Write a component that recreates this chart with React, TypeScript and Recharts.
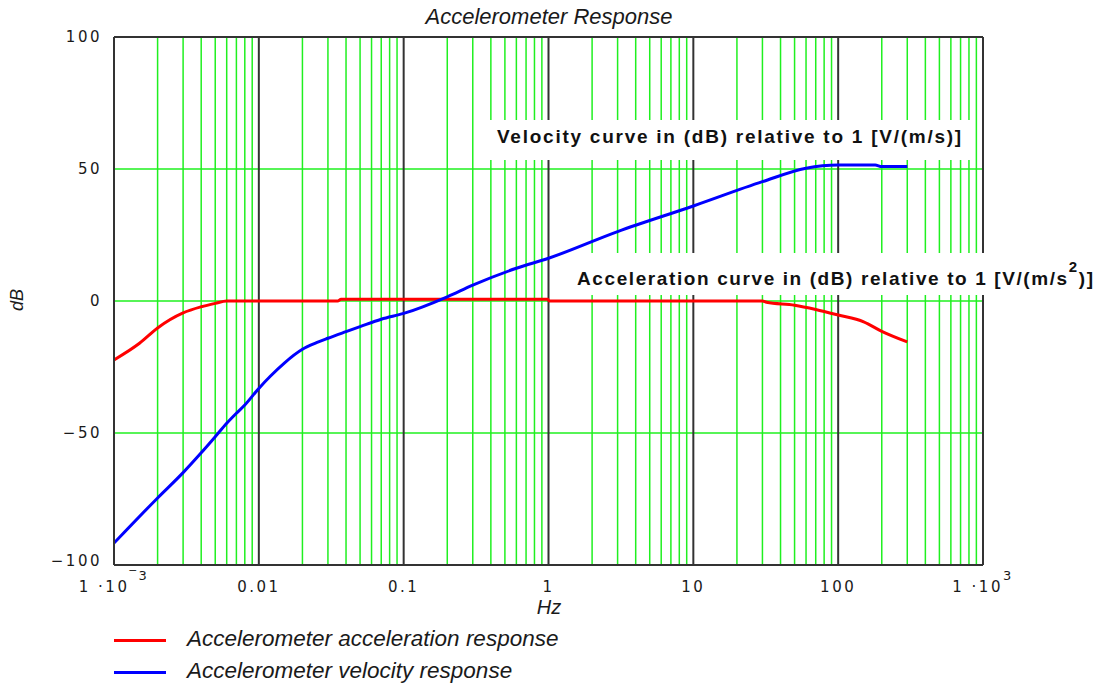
import { LineChart, Line, XAxis, YAxis, CartesianGrid } from 'recharts';

// frequency axis (Hz), log scale
const decadeTicks = [0.001, 0.01, 0.1, 1, 10, 100, 1000];
const minorSteps = [2, 3, 4, 5, 6, 7, 8, 9];
const dbTicks = [-100, -50, 0, 50, 100];

// acceleration response, dB re 1 V/(m/s^2)
const accelFreq = [0.001, 0.0015, 0.002, 0.003, 0.004, 0.005, 0.006, 0.01, 0.035, 0.037, 0.1, 0.99, 1.01, 10, 30, 32, 50, 70, 100, 150, 200, 300];
const accelDb = [-22.3, -16, -10.2, -4.5, -2.2, -0.9, 0, 0, 0, 0.7, 0.7, 0.7, 0, 0, 0, -0.5, -1.6, -3.2, -5.3, -7.9, -11.5, -15.5];

// velocity response, dB re 1 V/(m/s)
const velFreq = [0.001, 0.002, 0.003, 0.004, 0.005, 0.006, 0.007, 0.008, 0.01, 0.012, 0.015, 0.02, 0.025, 0.03, 0.04, 0.05, 0.07, 0.1, 0.2, 0.3, 0.6, 1, 3, 10, 30, 60, 100, 180, 200, 300];
const velDb = [-91.7, -74.6, -65, -57.5, -51.4, -46.3, -42.5, -39.4, -33.1, -28.5, -23.5, -18.3, -15.8, -14.1, -11.6, -9.7, -6.9, -4.7, 1.6, 6, 12.4, 16.2, 26.3, 36, 45.2, 50.3, 51.5, 51.5, 50.9, 50.9];

const accelName = 'Accelerometer acceleration response';
const velName = 'Accelerometer velocity response';

const accelData = accelFreq.map((f, i) => ({ f, db: accelDb[i] }));
const velData = velFreq.map((f, i) => ({ f, db: velDb[i] }));
const minorGrid = decadeTicks.slice(0, -1).flatMap((d) => minorSteps.map((m) => +(m * d).toPrecision(3)));
const majorGrid = decadeTicks.slice(1);

const tickFont = { fontFamily: 'DejaVu Sans', fontSize: 15, letterSpacing: 2.5, fill: '#1a1a1a' };
const arial = '"Liberation Sans", Arial, sans-serif';

// grid x positions through the axis scale (falls back to the log mapping of the plot box)
const gridAt = (values: number[]) => ({ xAxis, offset }: any) =>
  values.map((v) =>
    xAxis && typeof xAxis.scale === 'function'
      ? xAxis.scale(v)
      : offset.left + (offset.width * (Math.log10(v) + 3)) / 6
  );

function XTick({ x, y, payload }: any) {
  const v = payload.value;
  if (v === 0.001 || v === 1000) {
    return (
      <text x={x} y={y + 7} textAnchor="middle" {...tickFont}>
        1 ·10
        <tspan dy={-12} fontSize={13}>{v === 0.001 ? '\u203E3' : '3'}</tspan>
      </text>
    );
  }
  return (
    <text x={x} y={y + 7} textAnchor="middle" {...tickFont}>
      {String(v)}
    </text>
  );
}

function YTick({ x, y, payload }: any) {
  const v = payload.value;
  const label = v < 0 ? '\u2212' + Math.abs(v) : String(v);
  return (
    <text x={x + 2} y={y + (v === -100 ? 1 : 5)} textAnchor="end" {...tickFont}>
      {label}
    </text>
  );
}

export default function App() {
  return (
    <div style={{ position: 'relative', width: 1115, height: 686, background: '#fff', fontFamily: arial }}>
      <style>{'body{margin:0}'}</style>
      <LineChart width={1115} height={686} data={accelData} margin={{ top: 37, right: 132, left: 14, bottom: 91 }}>
        <CartesianGrid
          stroke="#1ff01f"
          strokeWidth={1.5}
          verticalCoordinatesGenerator={gridAt(minorGrid)}
          horizontalValues={[-50, 0, 50, 100]}
        />
        <CartesianGrid
          stroke="#333"
          strokeWidth={2}
          verticalCoordinatesGenerator={gridAt(majorGrid)}
          horizontalValues={[100]}
        />
        <XAxis
          dataKey="f"
          type="number"
          scale="log"
          domain={[0.001, 1000]}
          ticks={decadeTicks}
          allowDataOverflow
          height={30}
          tickSize={0}
          tickMargin={20}
          axisLine={{ stroke: '#333', strokeWidth: 2 }}
          tick={<XTick />}
        />
        <YAxis
          type="number"
          domain={[-100, 100]}
          ticks={dbTicks}
          width={100}
          tickSize={0}
          tickMargin={14}
          axisLine={{ stroke: '#333', strokeWidth: 2 }}
          tick={<YTick />}
        />
        <Line
          data={accelData}
          dataKey="db"
          name={accelName}
          type="monotone"
          stroke="#ff0000"
          strokeWidth={3}
          dot={false}
          isAnimationActive={false}
        />
        <Line
          data={velData}
          dataKey="db"
          name={velName}
          type="monotone"
          stroke="#0000ff"
          strokeWidth={3}
          dot={false}
          isAnimationActive={false}
        />
      </LineChart>

      {/* title and axis titles */}
      <div style={{ position: 'absolute', left: 0, width: 1098, top: 6, textAlign: 'center', fontStyle: 'italic', fontSize: 22, lineHeight: '22px', color: '#1a1a1a' }}>
        Accelerometer Response
      </div>
      <div style={{ position: 'absolute', left: 0, width: 1098, top: 597, textAlign: 'center', fontStyle: 'italic', fontSize: 20, lineHeight: '20px', color: '#1a1a1a' }}>
        Hz
      </div>
      <div style={{ position: 'absolute', left: 17, top: 300, transform: 'translate(-50%, -50%) rotate(-90deg)', fontStyle: 'italic', fontSize: 18, lineHeight: '18px', color: '#1a1a1a' }}>
        dB
      </div>

      {/* curve annotations */}
      <div style={{ position: 'absolute', left: 490, top: 120, width: 480, height: 40, background: '#fff', boxSizing: 'border-box', paddingLeft: 7, paddingTop: 7, fontWeight: 'bold', fontSize: 19, lineHeight: '19px', letterSpacing: 1.75, color: '#111', whiteSpace: 'nowrap' }}>
        Velocity curve in (dB) relative to 1 [V/(m/s)]
      </div>
      <div style={{ position: 'absolute', left: 570, top: 253, width: 545, height: 42, background: '#fff', boxSizing: 'border-box', paddingLeft: 7, paddingTop: 16, fontWeight: 'bold', fontSize: 19, lineHeight: '19px', letterSpacing: 1.6, color: '#111', whiteSpace: 'nowrap' }}>
        Acceleration curve in (dB) relative to 1 [V/(m/s
        <span style={{ position: 'relative', top: -13, fontSize: 15 }}>2</span>)]
      </div>

      {/* legend */}
      {[
        { name: accelName, color: '#ff0000', y: 640 },
        { name: velName, color: '#0000ff', y: 672 },
      ].map((item) => (
        <div key={item.name}>
          <div style={{ position: 'absolute', left: 114, top: item.y - 1.5, width: 52, height: 3, background: item.color }} />
          <div style={{ position: 'absolute', left: 187, top: item.y - 12, fontStyle: 'italic', fontSize: 22.5, lineHeight: '22px', color: '#1a1a1a', whiteSpace: 'nowrap' }}>
            {item.name}
          </div>
        </div>
      ))}
    </div>
  );
}
